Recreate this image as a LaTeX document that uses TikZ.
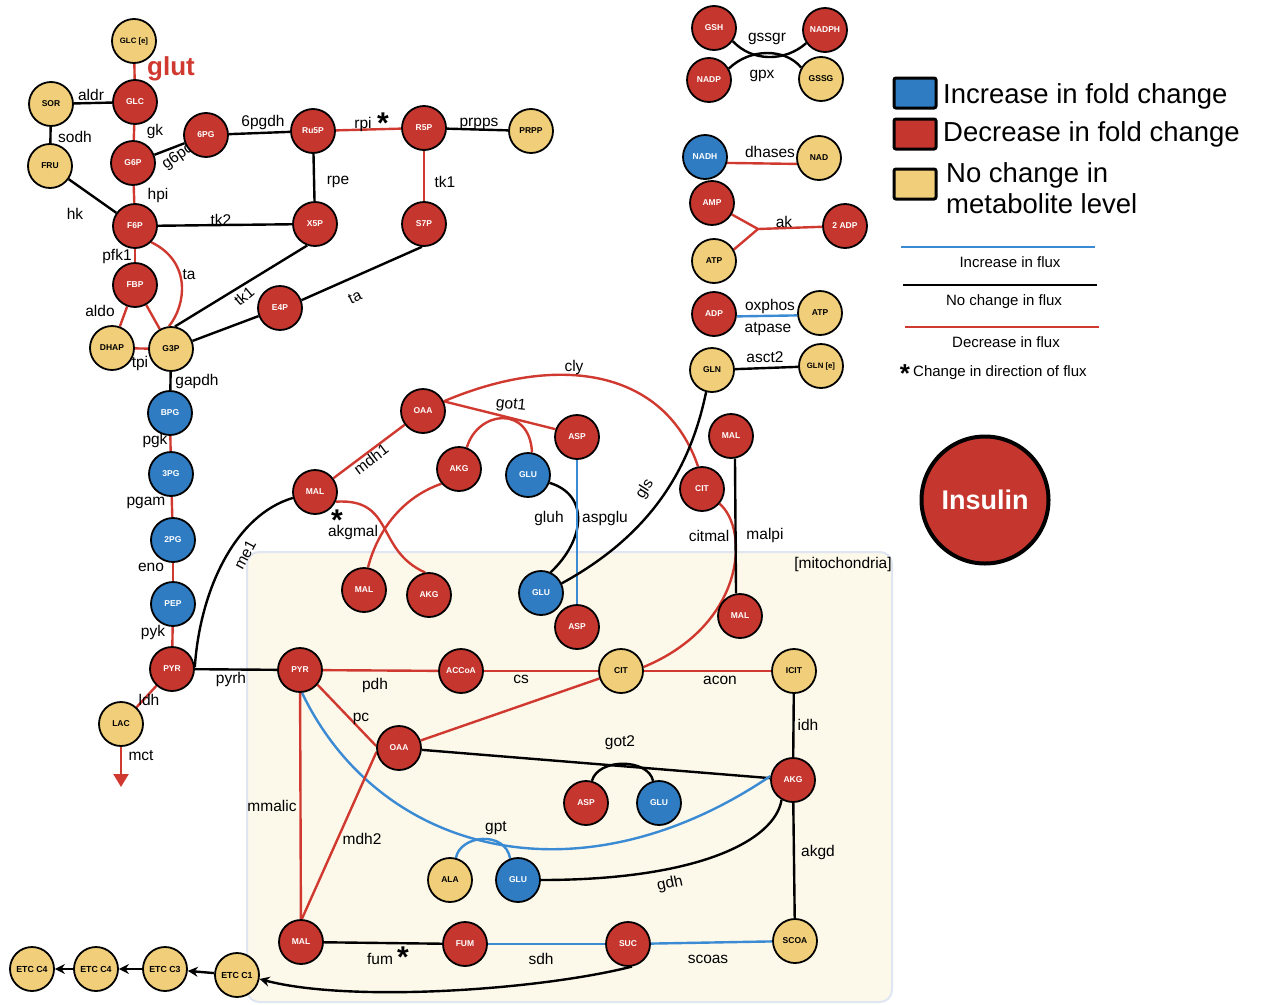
\documentclass[tikz,border=0pt]{standalone}
\usepackage{fontspec}
\setmainfont{Liberation Sans}
\usetikzlibrary{arrows.meta}
\pgfdeclarelayer{bgbox}
\pgfdeclarelayer{bgedge}
\pgfsetlayers{bgbox,bgedge,main}
\definecolor{nred}{HTML}{C5362E}
\definecolor{nblue}{HTML}{2F7CC3}
\definecolor{nyel}{HTML}{F1CE7A}
\definecolor{ered}{HTML}{D0392F}
\definecolor{eblue}{HTML}{3B8AD4}
\definecolor{mitof}{HTML}{FCF8EA}
\definecolor{mitob}{HTML}{DFE5F1}
\begin{document}
\begin{tikzpicture}[x=1pt,y=-1pt,
  met/.style={circle,draw=black,line width=1.8pt,minimum size=44pt,inner sep=0pt,font=\fontsize{8.5}{9}\selectfont\bfseries},
  rm/.style={met,fill=nred,text=white},
  bm/.style={met,fill=nblue,text=white},
  ym/.style={met,fill=nyel,text=black},
  smalltxt/.style={font=\fontsize{7.8}{8}\selectfont\bfseries},
  etctxt/.style={font=\fontsize{8.8}{9}\selectfont\bfseries},
  lab/.style={font=\fontsize{15.5}{17}\selectfont,inner sep=0pt},
  astk/.style={font=\fontsize{30}{30}\selectfont\bfseries,inner sep=0pt,anchor=north},
  rl/.style={draw=ered,line width=2.4pt},
  kl/.style={draw=black,line width=2.4pt},
  bl/.style={draw=eblue,line width=2.4pt},
  lgbox/.style={draw=black,line width=3pt,minimum width=42pt,minimum height=30pt,rounded corners=2pt,inner sep=0pt},
  lgtxt/.style={anchor=west,font=\fontsize{27.5}{31}\selectfont,inner sep=0pt,align=left},
  lgsm/.style={font=\fontsize{15}{17}\selectfont,inner sep=0pt},
  arr/.style={-{Stealth[length=10pt,width=10pt]}}
]
\useasboundingbox (0,0) rectangle (1261,1004);

% ---------- metabolites: glycolysis / PPP
\node[ym,smalltxt] (GLCe) at (134,41) {GLC [e]};
\node[rm] (GLC) at (135,102) {GLC};
\node[ym] (SOR) at (51,104) {SOR};
\node[ym] (FRU) at (50,166) {FRU};
\node[rm] (G6P) at (133,163) {G6P};
\node[rm] (PG6) at (206,135) {6PG};
\node[rm] (Ru5P) at (313,131) {Ru5P};
\node[rm] (R5P) at (424,128) {R5P};
\node[ym] (PRPP) at (531,131) {PRPP};
\node[rm] (X5P) at (315,224) {X5P};
\node[rm] (S7P) at (424,224) {S7P};
\node[rm] (F6P) at (135,226) {F6P};
\node[rm] (FBP) at (135,285) {FBP};
\node[rm] (E4P) at (280,308) {E4P};
\node[ym] (DHAP) at (112,348) {DHAP};
\node[ym] (G3P) at (171,349) {G3P};
\node[bm] (BPG) at (170,413) {BPG};
\node[bm] (PG3) at (171,474) {3PG};
\node[bm] (PG2) at (173,540) {2PG};
\node[bm] (PEP) at (173,604) {PEP};
\node[rm] (PYRc) at (172,669) {PYR};
\node[ym] (LAC) at (121,724) {LAC};
\coordinate (mctend) at (121,787);

% ---------- cytosol
\node[rm] (OAAc) at (423,411) {OAA};
\node[rm] (MALc) at (315,492) {MAL};
\node[rm] (AKGc) at (459,469) {AKG};
\node[bm] (GLUc) at (528,475) {GLU};
\node[rm] (ASPc) at (577,437) {ASP};
\node[rm] (CITc) at (702,489) {CIT};
\node[rm] (MALt) at (731,436) {MAL};
\node[ym] (GLN) at (712,370) {GLN};
\node[ym,smalltxt] (GLNe) at (821,366) {GLN [e]};

% ---------- mitochondria
\node[rm] (MALm1) at (364,590) {MAL};
\node[rm] (AKGm1) at (429,595) {AKG};
\node[bm] (GLUm1) at (541,593) {GLU};
\node[rm] (ASPm1) at (577,627) {ASP};
\node[rm] (MALm2) at (740,616) {MAL};
\node[rm] (PYRm) at (300,670) {PYR};
\node[rm] (ACCoA) at (461,671) {ACCoA};
\node[ym] (CITm) at (621,671) {CIT};
\node[ym] (ICIT) at (794,671) {ICIT};
\node[rm] (OAAm) at (399,748) {OAA};
\node[rm] (AKGm2) at (793,780) {AKG};
\node[rm] (ASPm2) at (586,803) {ASP};
\node[bm] (GLUm2) at (659,803) {GLU};
\node[ym] (ALA) at (450,880) {ALA};
\node[bm] (GLUm3) at (518,880) {GLU};
\node[rm] (MALm3) at (301,942) {MAL};
\node[rm] (FUM) at (465,944) {FUM};
\node[rm] (SUC) at (628,944) {SUC};
\node[ym] (SCOA) at (795,941) {SCOA};
\node[ym,etctxt] (ETC1) at (237,975) {ETC C1};
\node[ym,etctxt] (ETC3) at (165,969) {ETC C3};
\node[ym,etctxt] (ETC4a) at (96,969) {ETC C4};
\node[ym,etctxt] (ETC4b) at (32,969) {ETC C4};

% ---------- right group
\node[rm] (GSH) at (714,28) {GSH};
\node[rm] (NADPH) at (825,30) {NADPH};
\node[rm] (NADP) at (709,80) {NADP};
\node[ym] (GSSG) at (821,79) {GSSG};
\node[bm] (NADH) at (705,157) {NADH};
\node[ym] (NAD) at (819,158) {NAD};
\node[rm] (AMP) at (712,203) {AMP};
\node[ym] (ATPa) at (714,261) {ATP};
\node[rm] (ADP2) at (845,226) {2 ADP};
\node[rm] (ADP) at (714,314) {ADP};
\node[ym] (ATPb) at (820,313) {ATP};
\coordinate (akj) at (758,229);

% ---------- insulin
\node[circle,draw=black,line width=4pt,fill=nred,minimum size=127pt,inner sep=0pt,text=white,font=\fontsize{27}{30}\selectfont\bfseries] (ins) at (985,500) {Insulin};

% ---------- legend
\node[lgbox,fill=nblue] (lgb) at (915,93) {};
\node[lgbox,fill=nred] (lgr) at (915,134) {};
\node[lgbox,fill=nyel] (lgy) at (915,184) {};
\node[lgtxt] (lgbt) at (943,96) {Increase in fold change};
\node[lgtxt] (lgrt) at (943,134) {Decrease in fold change};
\node[lgtxt] (lgyt) at (946,188) {No change in\\metabolite level};
\coordinate (lf1a) at (901,247); \coordinate (lf1b) at (1095,247);
\coordinate (lf2a) at (903,285); \coordinate (lf2b) at (1097,285);
\coordinate (lf3a) at (905,327); \coordinate (lf3b) at (1099,327);
\draw[bl] (lf1a) -- (lf1b);
\draw[kl] (lf2a) -- (lf2b);
\draw[rl] (lf3a) -- (lf3b);
\node[lgsm] (lf1t) at (1010,262) {Increase in flux};
\node[lgsm] (lf2t) at (1004,302) {No change in flux};
\node[lgsm] (lf3t) at (1006,342) {Decrease in flux};
\node[astk,font=\fontsize{26}{26}\selectfont\bfseries] (lf4s) at (905,364) {*};
\node[lgsm,anchor=west] (lf4t) at (913,373) {Change in direction of flux};

\begin{pgfonlayer}{bgbox}
\draw[draw=mitob,fill=mitof,line width=2pt,rounded corners=12pt] (247,552) rectangle (892,1002);
\end{pgfonlayer}

\begin{pgfonlayer}{bgedge}
% glycolysis / PPP
\draw[rl] (GLCe) -- (GLC);
\draw[kl] (SOR) -- (GLC);
\draw[kl] (SOR) -- (FRU);
\draw[kl] (FRU) -- (F6P);
\draw[rl] (GLC) -- (G6P);
\draw[kl] (G6P) -- (PG6);
\draw[kl] (PG6) -- (Ru5P);
\draw[rl] (Ru5P) -- (R5P);
\draw[kl] (R5P) -- (PRPP);
\draw[kl] (Ru5P) -- (X5P);
\draw[rl] (R5P) -- (S7P);
\draw[rl] (G6P) -- (F6P);
\draw[kl] (F6P) -- (X5P);
\draw[rl] (F6P) -- (FBP);
\draw[rl] (F6P.-45) .. controls (192,262) and (186,305) .. (G3P.95);
\draw[rl] (FBP) -- (DHAP);
\draw[rl] (FBP) -- (G3P);
\draw[rl] (DHAP) -- (G3P);
\draw[kl] (X5P.250) -- (G3P.80);
\draw[kl] (G3P) -- (E4P);
\draw[kl] (E4P.20) -- (S7P.-95);
\draw[kl] (G3P) -- (BPG);
\draw[rl] (BPG) -- (PG3);
\draw[rl] (PG3) -- (PG2);
\draw[rl] (PG2) -- (PEP);
\draw[rl] (PEP) -- (PYRc);
\draw[rl] (PYRc) -- (LAC);
\draw[rl,-{Triangle[length=13pt,width=15pt]}] (LAC) -- (mctend);
\draw[kl] (PYRc.5) .. controls (200,590) and (235,515) .. (MALc.195);
\draw[kl] (PYRc) -- (PYRm);
% cytosol
\draw[rl] (MALc) -- (OAAc);
\draw[rl] (OAAc.25) -- (ASPc.160);
\draw[rl] (OAAc.25) .. controls (560,352) and (665,370) .. (CITc.100);
\draw[rl] (AKGc.70) .. controls (478,410) and (530,405) .. (GLUc.80);
\draw[rl] (MALc.-25) .. controls (395,498) and (375,550) .. (AKGm1.100);
\draw[rl] (AKGc.220) .. controls (395,500) and (375,540) .. (MALm1.80);
\draw[kl] (GLUc.-20) .. controls (590,495) and (585,540) .. (GLUm1.65);
\draw[bl] (ASPc) -- (ASPm1);
\draw[kl] (GLN.255) .. controls (690,470) and (650,535) .. (GLUm1.25);
\draw[kl] (GLN) -- (GLNe);
\draw[rl] (CITc.-40) .. controls (750,530) and (745,625) .. (CITm.10);
\draw[kl] (MALt.-80) -- (MALm2.100);
% mitochondria
\draw[rl] (PYRm) -- (ACCoA);
\draw[rl] (ACCoA) -- (CITm);
\draw[rl] (CITm) -- (ICIT);
\draw[kl] (ICIT) -- (AKGm2);
\draw[rl] (PYRm.-40) -- (OAAm.175);
\draw[rl] (OAAm) -- (CITm);
\draw[kl] (OAAm) -- (AKGm2);
\draw[kl] (ASPm2.75) .. controls (598,758) and (648,758) .. (GLUm2.105);
\draw[bl] (PYRm.-85) .. controls (380,855) and (580,905) .. (AKGm2.170);
\draw[bl] (ALA.75) .. controls (460,835) and (505,830) .. (GLUm3.110);
\draw[kl] (GLUm3.0) .. controls (700,880) and (775,840) .. (AKGm2.240);
\draw[kl] (AKGm2) -- (SCOA);
\draw[rl] (PYRm) -- (MALm3);
\draw[rl] (MALm3.88) -- (OAAm.190);
\draw[kl] (MALm3) -- (FUM);
\draw[bl] (FUM) -- (SUC);
\draw[bl] (SUC) -- (SCOA);
\draw[kl,arr] (SUC.-80) .. controls (540,990) and (350,1003) .. (ETC1.-10);
\draw[kl,arr] (ETC1) -- (ETC3);
\draw[kl,arr] (ETC3) -- (ETC4a);
\draw[kl,arr] (ETC4a) -- (ETC4b);
% right group
\draw[kl] (GSH.-35) .. controls (752,62) and (785,62) .. (NADPH.215);
\draw[kl] (NADP.30) .. controls (750,48) and (785,48) .. (GSSG.150);
\draw[rl] (NADH.-15) -- (NAD.-165);
\draw[rl] (AMP.-30) -- (akj) -- (ADP2);
\draw[rl] (ATPa.30) -- (akj);
\draw[bl] (ADP.-6) -- (ATPb.-174);

% ---------- labels
\node[font=\fontsize{26}{28}\selectfont\bfseries,text=ered,inner sep=0pt] (t-glut) at (171,69) {glut};
\node[lab] (t-aldr) at (91,95) {aldr};
\node[lab] (t-sodh) at (75,137) {sodh};
\node[lab] (t-gk) at (155,131) {gk};
\node[lab,rotate=35] (t-g6pd) at (178,156) {g6pd};
\node[lab] (t-6pgdh) at (263,122) {6pgdh};
\node[lab] (t-rpi) at (363,124) {rpi};
\node[astk] (s-rpi) at (383,113) {*};
\node[lab] (t-prpps) at (479,124) {prpps};
\node[lab] (t-rpe) at (338,182) {rpe};
\node[lab] (t-tk1a) at (445,182) {tk1};
\node[lab] (t-hpi) at (158,195) {hpi};
\node[lab] (t-hk) at (75,214) {hk};
\node[lab] (t-tk2) at (221,220) {tk2};
\node[lab] (t-pfk1) at (117,256) {pfk1};
\node[lab] (t-ta1) at (189,275) {ta};
\node[lab] (t-aldo) at (100,311) {aldo};
\node[lab,rotate=40] (t-tk1b) at (244,296) {tk1};
\node[lab,rotate=25] (t-ta2) at (355,297) {ta};
\node[lab] (t-tpi) at (140,363) {tpi};
\node[lab] (t-gapdh) at (197,381) {gapdh};
\node[lab] (t-pgk) at (155,440) {pgk};
\node[lab] (t-pgam) at (146,503) {pgam};
\node[lab] (t-eno) at (151,567) {eno};
\node[lab] (t-pyk) at (153,632) {pyk};
\node[lab] (t-ldh) at (149,700) {ldh};
\node[lab] (t-mct) at (141,756) {mct};
\node[lab,rotate=62] (t-me1) at (245,555) {me1};
\node[lab] (t-pyrh) at (231,679) {pyrh};
\node[lab,rotate=37] (t-mdh1) at (371,459) {mdh1};
\node[lab,rotate=-6] (t-got1) at (511,405) {got1};
\node[lab] (t-cly) at (574,367) {cly};
\node[astk] (s-akgmal) at (337,510) {*};
\node[lab] (t-akgmal) at (353,532) {akgmal};
\node[lab] (t-gluh) at (549,518) {gluh};
\node[lab] (t-aspglu) at (605,518) {aspglu};
\node[lab,rotate=58] (t-gls) at (645,489) {gls};
\node[lab] (t-asct2) at (765,357) {asct2};
\node[lab] (t-citmal) at (709,536) {citmal};
\node[lab] (t-malpi) at (765,535) {malpi};
\node[lab] (t-mito) at (843,564) {[mitochondria]};
\node[lab] (t-pdh) at (375,685) {pdh};
\node[lab] (t-cs) at (521,679) {cs};
\node[lab] (t-acon) at (720,680) {acon};
\node[lab] (t-idh) at (808,725) {idh};
\node[lab] (t-pc) at (361,719) {pc};
\node[lab] (t-got2) at (620,743) {got2};
\node[lab] (t-mmalic) at (272,806) {mmalic};
\node[lab] (t-mdh2) at (362,839) {mdh2};
\node[lab] (t-gpt) at (496,828) {gpt};
\node[lab,rotate=12] (t-gdh) at (670,884) {gdh};
\node[lab] (t-akgd) at (818,852) {akgd};
\node[lab] (t-fum) at (380,959) {fum};
\node[astk] (s-fum) at (403,947) {*};
\node[lab] (t-sdh) at (541,959) {sdh};
\node[lab] (t-scoas) at (708,959) {scoas};
\node[lab] (t-gssgr) at (767,39) {gssgr};
\node[lab] (t-gpx) at (762,76) {gpx};
\node[lab] (t-dhases) at (770,152) {dhases};
\node[lab] (t-ak) at (784,222) {ak};
\node[lab] (t-oxphos) at (770,306) {oxphos};
\node[lab] (t-atpase) at (768,329) {atpase};
\end{pgfonlayer}
\end{tikzpicture}
\end{document}
